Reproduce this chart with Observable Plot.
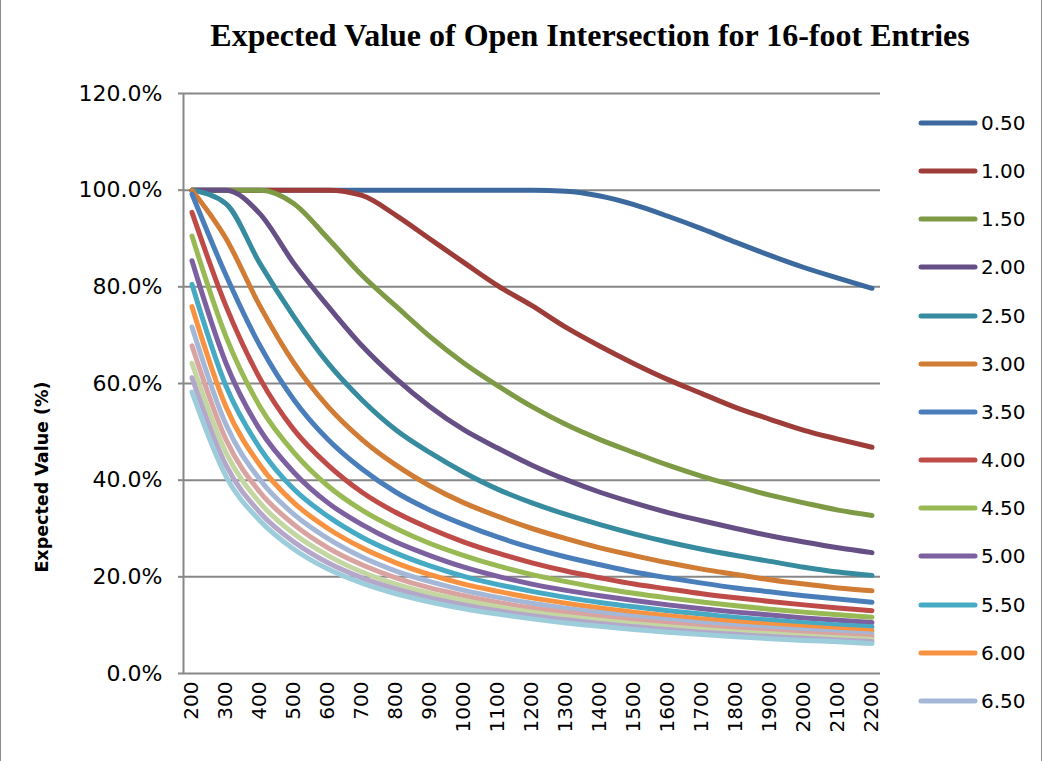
<!DOCTYPE html>
<html><head><meta charset="utf-8">
<script src="https://cdn.jsdelivr.net/npm/d3@7"></script>
<script src="https://cdn.jsdelivr.net/npm/@observablehq/plot@0.6"></script>
<style>
body{margin:0;background:#fff;}
#wrap{position:relative;width:1042px;height:761px;overflow:hidden;background:#fff;}
#wrap > svg{position:absolute;left:0;top:0;}
#title{position:absolute;left:590px;top:17px;transform:translateX(-50%);white-space:nowrap;font-family:"Liberation Serif",serif;font-weight:bold;font-size:32px;color:#000;}
#ylabel{position:absolute;left:42px;top:477px;transform:translate(-50%,-50%) rotate(-90deg);white-space:nowrap;font-family:"DejaVu Sans",sans-serif;font-weight:bold;font-size:17.5px;color:#000;}
#legend{position:absolute;left:918px;top:0;}
.lg{position:absolute;left:0;display:flex;align-items:center;height:24px;font-family:"DejaVu Sans",sans-serif;font-size:20px;color:#000;white-space:nowrap;}
.lg svg{display:block;margin-right:3px;}
#border{position:absolute;inset:0;border-left:1px solid #8c8c8c;border-right:1px solid #8c8c8c;pointer-events:none;}
</style></head><body>
<div id="wrap">
  <div id="title">Expected Value of Open Intersection for 16-foot Entries</div>
  <div id="ylabel">Expected Value (%)</div>
  <div id="legend"></div>
  <div id="border"></div>
</div>
<script>
// Entry length categories (x axis)
const entryLengths = [200,300,400,500,600,700,800,900,1000,1100,1200,1300,1400,1500,1600,1700,1800,1900,2000,2100,2200];
const seriesNames = ["0.50","1.00","1.50","2.00","2.50","3.00","3.50","4.00","4.50","5.00","5.50","6.00","6.50","7.00","7.50","8.00","8.50"];
const seriesColors = ["#3d6a9e","#9e3c39","#7e9a45","#654f84","#378b9e","#d07c34","#4a7ebb","#be4b48","#98b954","#7d60a0","#46aac5","#f69240","#a5b7d7","#d9a3a2","#c4d7a3","#b4a7c9","#9dcddb"];
const legendCount = 13;
const yTicks = [0,20,40,60,80,100,120];

// Expected value (%) per series, one value per entry length
const s050 = [100,100,100,100,100,100,100,100,100,100,100,99.8,98.8,97.0,94.6,92.0,89.2,86.5,84.0,81.8,79.7];
const s100 = [100,100,100,100,100,98.9,94.8,89.9,85.0,80.2,76.1,71.6,67.7,64.1,60.8,57.9,55.0,52.6,50.3,48.5,46.8];
const s150 = [100,100,100,97.2,90.0,82.4,76.0,69.7,64.2,59.5,55.2,51.5,48.4,45.7,43.1,40.8,38.8,36.9,35.3,33.8,32.7];
const s200 = [100,100,95.1,84.8,76.0,67.8,61.0,55.2,50.4,46.6,43.1,40.1,37.5,35.3,33.3,31.6,30.0,28.5,27.2,26.0,25.0];
const s250 = [100,97.2,84.8,73.8,64.2,56.6,50.4,45.7,41.6,38.1,35.3,32.9,30.8,28.9,27.2,25.7,24.4,23.2,22.0,21.0,20.3];
const s300 = [100,90.0,76.0,64.2,55.2,48.4,43.1,38.8,35.3,32.5,30.0,27.9,26.0,24.4,22.9,21.6,20.5,19.4,18.5,17.7,17.1];
const s350 = [99.2,82.4,67.8,56.6,48.4,42.3,37.5,33.8,30.8,28.2,26.0,24.1,22.5,21.0,19.8,18.7,17.7,16.9,16.1,15.4,14.75];
const s400 = [95.4,76.0,61.0,50.4,43.1,37.5,33.3,30.0,27.2,24.9,22.9,21.2,19.8,18.5,17.5,16.5,15.65,14.9,14.2,13.55,13.0];
const s450 = [90.5,69.7,55.2,45.7,38.8,33.8,30.0,26.9,24.4,22.25,20.45,19.0,17.7,16.6,15.65,14.8,14.0,13.3,12.7,12.15,11.65];
const s500 = [85.4,64.2,50.4,41.6,35.3,30.8,27.2,24.4,22.0,20.1,18.5,17.2,16.1,15.1,14.2,13.4,12.7,12.1,11.5,11.0,10.55];
const s550 = [80.5,59.5,46.6,38.1,32.5,28.2,24.9,22.25,20.1,18.4,17.0,15.75,14.7,13.8,13.0,12.3,11.6,11.05,10.5,10.05,9.65];
const s600 = [75.9,55.2,43.1,35.3,30.0,26.0,22.9,20.45,18.5,17.0,15.65,14.55,13.55,12.7,11.95,11.3,10.7,10.15,9.65,9.2,8.85];
const s650 = [71.7,51.5,40.1,32.9,27.9,24.1,21.2,19.0,17.2,15.75,14.55,13.5,12.6,11.8,11.1,10.45,9.9,9.4,8.95,8.55,8.15];
const s700 = [67.8,48.4,37.5,30.8,26.0,22.5,19.8,17.7,16.1,14.7,13.55,12.6,11.75,11.0,10.35,9.75,9.2,8.75,8.3,7.95,7.6];
const s750 = [64.2,45.7,35.3,28.9,24.4,21.0,18.5,16.6,15.1,13.8,12.7,11.8,11.0,10.3,9.65,9.1,8.6,8.2,7.75,7.4,7.05];
const s800 = [61.2,43.1,33.3,27.2,22.9,19.8,17.5,15.65,14.2,13.0,11.95,11.1,10.35,9.65,9.1,8.55,8.1,7.65,7.3,6.95,6.6];
const s850 = [58.2,40.8,31.6,25.7,21.6,18.7,16.5,14.8,13.4,12.3,11.3,10.45,9.75,9.1,8.55,8.05,7.6,7.2,6.85,6.55,6.2];
const seriesValues = [s050,s100,s150,s200,s250,s300,s350,s400,s450,s500,s550,s600,s650,s700,s750,s800,s850];

const rows = seriesNames.flatMap((name, i) =>
  entryLengths.map((x, j) => ({series: name, x, y: seriesValues[i][j]})));

const chart = Plot.plot({
  width: 1042, height: 761,
  marginLeft: 183, marginRight: 162, marginTop: 93, marginBottom: 88,
  style: {fontFamily: "DejaVu Sans, sans-serif", fontSize: "20px", background: "transparent", color: "#000"},
  x: {domain: [175, 2225]},
  y: {domain: [0, 120]},
  color: {domain: seriesNames, range: seriesColors},
  marks: [
    Plot.gridY(yTicks, {stroke: "#878787", strokeOpacity: 1, strokeWidth: 2}),
    Plot.ruleX([175], {stroke: "#878787", strokeWidth: 2}),
    Plot.axisY(yTicks, {tickSize: 5, tickPadding: 16, stroke: "#878787", strokeWidth: 2,
      tickFormat: d => d.toFixed(1) + "%", fontSize: 22, label: null}),
    Plot.axisX(entryLengths, {tickSize: 0, tickRotate: -90, tickPadding: 8, fontSize: 20,
      label: null, tickFormat: d => String(d)}),
    Plot.line(rows, {x: "x", y: "y", z: "series", stroke: "series", strokeWidth: 5,
      curve: "monotone-x", strokeLinecap: "round", strokeLinejoin: "round"})
  ]
});
const wrap = document.getElementById("wrap");
wrap.insertBefore(chart, wrap.firstChild);

// Legend (Excel shows the first 13 series)
const legend = document.getElementById("legend");
const legendTop = 123, legendStep = 48.15;
seriesNames.slice(0, legendCount).forEach((name, i) => {
  const row = document.createElement("div");
  row.className = "lg";
  row.style.top = (legendTop + i * legendStep - 12) + "px";
  row.innerHTML = `<svg width="60" height="10"><line x1="3" y1="5" x2="57" y2="5" stroke="${seriesColors[i]}" stroke-width="5" stroke-linecap="round"/></svg><span>${name}</span>`;
  legend.appendChild(row);
});
</script>
</body></html>
